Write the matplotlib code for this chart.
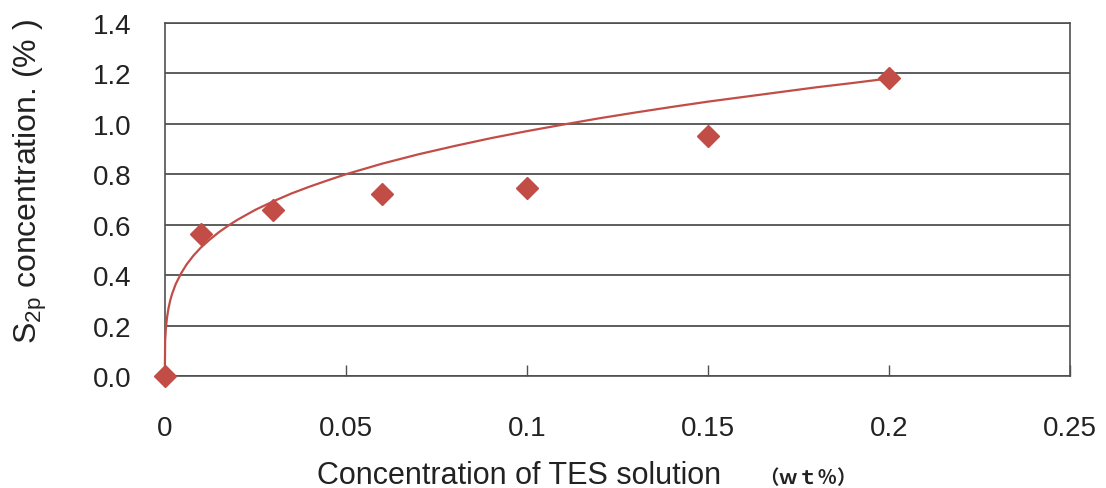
import matplotlib
matplotlib.use("Agg")
import matplotlib.pyplot as plt

# measured data points
tes_conc = [0.0, 0.01, 0.03, 0.06, 0.10, 0.15, 0.20]
s2p_conc = [0.0, 0.565, 0.66, 0.72, 0.745, 0.95, 1.18]

# trend curve
curve_x = [0.0, 0.0001, 0.0003, 0.0006, 0.001, 0.0015, 0.002, 0.003, 0.0045,
           0.006, 0.008, 0.01, 0.0125, 0.015, 0.0175, 0.02, 0.025, 0.03,
           0.035, 0.04, 0.045, 0.05, 0.06, 0.07, 0.08, 0.09, 0.10, 0.11,
           0.12, 0.13, 0.14, 0.15, 0.16, 0.17, 0.18, 0.19, 0.20]
curve_y = [0.0, 0.14, 0.19, 0.23, 0.267, 0.30, 0.325, 0.364, 0.407,
           0.442, 0.479, 0.51, 0.542, 0.571, 0.596, 0.619, 0.659, 0.693,
           0.724, 0.751, 0.776, 0.80, 0.842, 0.879, 0.912, 0.943, 0.971, 0.997,
           1.022, 1.045, 1.067, 1.088, 1.107, 1.126, 1.145, 1.162, 1.18]

x_ticks = [0, 0.05, 0.1, 0.15, 0.2, 0.25]
x_tick_labels = ["0", "0.05", "0.1", "0.15", "0.2", "0.25"]
y_ticks = [0.0, 0.2, 0.4, 0.6, 0.8, 1.0, 1.2, 1.4]
y_tick_labels = ["0.0", "0.2", "0.4", "0.6", "0.8", "1.0", "1.2", "1.4"]

plt.rcParams['font.family'] = ['Liberation Sans', 'DejaVu Sans']

fig = plt.figure(figsize=(11.06, 4.89), dpi=100)
ax = fig.add_axes([0.149, 0.229, 0.9675 - 0.149, 0.951 - 0.229])

red = "#c24d47"
grid_c = "#505050"
txt_c = "#222222"

ax.plot(curve_x, curve_y, color=red, lw=1.6, zorder=3, clip_on=False)
ax.plot(tes_conc, s2p_conc, linestyle="none", marker="D", ms=11.5,
        color=red, mec=red, zorder=4, clip_on=False)

ax.set_xlim(0, 0.25)
ax.set_ylim(0, 1.4)
ax.set_xticks(x_ticks)
ax.set_xticklabels(x_tick_labels)
ax.set_yticks(y_ticks)
ax.set_yticklabels(y_tick_labels)

ax.yaxis.grid(True, color=grid_c, lw=1.3)
ax.set_axisbelow(True)
for s in ax.spines.values():
    s.set_color(grid_c)
    s.set_linewidth(1.2)

ax.tick_params(axis="x", direction="in", length=8, width=1.0, color=grid_c,
               pad=28, labelsize=20, labelcolor=txt_c)
ax.tick_params(axis="y", length=0, pad=24, labelsize=20, labelcolor=txt_c)

fig.text(0.287, 0.011, "Concentration of TES solution", fontsize=22,
         color=txt_c, ha="left", va="baseline")
fig.text(0.686, 0.010, "（ｗｔ％）", fontsize=14, fontweight="bold",
         family=["Noto Sans CJK JP", "DejaVu Sans"], color=txt_c,
         ha="left", va="baseline")

fig.text(0.027, 0.628, r"S$_{\mathregular{2p}}$ concentration. (% )", fontsize=23,
         rotation=90, color=txt_c, ha="center", va="center")

fig.savefig("out.png", dpi=100)
